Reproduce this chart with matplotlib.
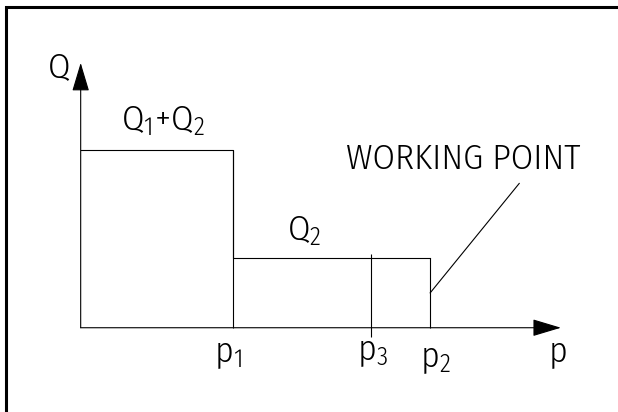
import matplotlib
matplotlib.use('Agg')
import matplotlib.pyplot as plt
from matplotlib.patches import Rectangle

# valores del esquema (unidades arbitrarias)
p_names = ['p_1', 'p_3', 'p_2']
p_vals = [3.0, 5.71, 6.87]          # p1, p3, p2
q_names = ['Q_1{+}Q_2', 'Q_2']
q_vals = [2.55, 1.0]                # Q1+Q2 hasta p1, Q2 hasta p2
p_max = 9.44                        # fin del eje p
q_max = 3.80                        # fin del eje Q
wp_q = 0.50                         # punto de trabajo sobre p2
wp_label = 'WORKING POINT'

plt.rcParams['font.family'] = ['Fira Sans Condensed', 'DejaVu Sans']
FS = 26
W = 300

fig = plt.figure(figsize=(6.18, 4.12), dpi=100)
ax = fig.add_axes([0, 0, 1, 1])
ax.set_xlim(-1.586, 10.562)
ax.set_ylim(-1.209, 4.702)
ax.axis('off')

# marco (solo se ve arriba y a la izquierda)
fig.add_artist(Rectangle((0.0097, -0.1), 1.2, 1.0842, transform=fig.transFigure,
                         fill=False, lw=2.2, color='black'))

lw = 0.8
# ejes con flecha
flecha = dict(arrowstyle='-|>,head_length=1.0,head_width=0.3', mutation_scale=18,
              lw=lw, color='black', shrinkA=0, shrinkB=0)
ax.annotate('', xy=(p_max, 0), xytext=(0, 0), arrowprops=flecha)
ax.annotate('', xy=(0, q_max), xytext=(0, 0), arrowprops=flecha)

# escalones del caudal
p1, p3, p2 = p_vals
ax.step([0, p1, p2], [q_vals[0], q_vals[1], q_vals[1]], where='post', color='black', lw=lw)
ax.vlines([p1, p2], 0, q_vals, color='black', lw=lw)
ax.vlines(p3, -0.13, q_vals[1] * 1.06, color='black', lw=lw)

# linea al punto de trabajo
ax.plot([p2, 8.62], [wp_q, 2.07], color='black', lw=lw)

# textos
txt = dict(fontsize=FS, fontweight=W, va='baseline', ha='center')
ax.text(-0.427, 3.60, 'Q', **txt)
ax.text(1.617, 2.835, r'$\mathregular{%s}$' % q_names[0], **txt)
ax.text(4.39, 1.258, r'$\mathregular{%s}$' % q_names[1], **txt)
ax.text(7.515, 2.277, wp_label, **txt)
label_y = [-0.492, -0.463, -0.56]
label_dx = [-0.1, 0.03, 0.1]
for n, v, y, dx in zip(p_names, p_vals, label_y, label_dx):
    ax.text(v + dx, y, r'$\mathregular{%s}$' % n, **txt)
ax.text(9.38, -0.478, 'p', **txt)

fig.savefig('out.png')
